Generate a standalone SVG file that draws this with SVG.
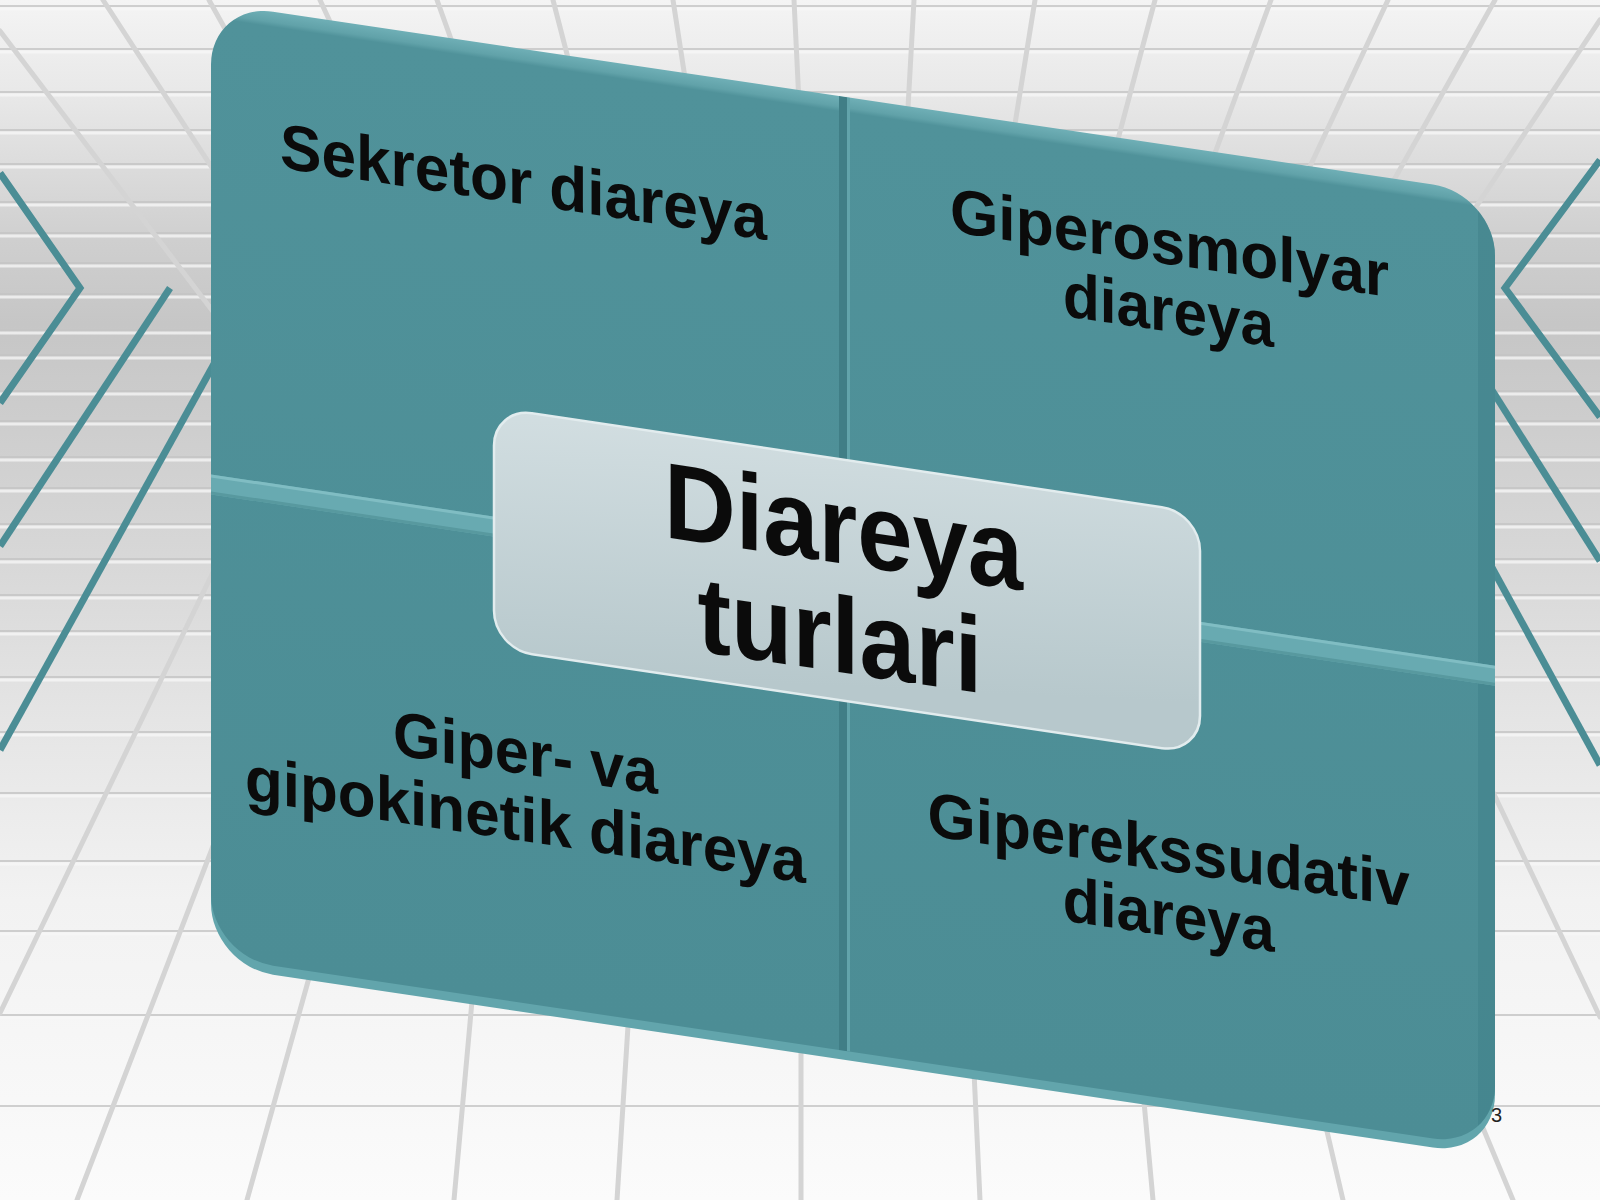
<svg xmlns="http://www.w3.org/2000/svg" width="1600" height="1200" viewBox="0 0 1600 1200">
<defs>
<linearGradient id="bg" x1="0" y1="0" x2="0" y2="1">
<stop offset="0" stop-color="#f4f4f4"/>
<stop offset="0.08" stop-color="#e8e8e8"/>
<stop offset="0.2" stop-color="#cfcfcf"/>
<stop offset="0.27" stop-color="#c6c6c6"/>
<stop offset="0.45" stop-color="#d6d6d6"/>
<stop offset="0.6" stop-color="#e5e5e5"/>
<stop offset="0.75" stop-color="#f2f2f2"/>
<stop offset="1" stop-color="#fbfbfb"/>
</linearGradient>
<linearGradient id="face" x1="0" y1="0" x2="0" y2="1">
<stop offset="0" stop-color="#6fafb6"/>
<stop offset="0.011" stop-color="#61a2a9"/>
<stop offset="0.016" stop-color="#50929a"/>
<stop offset="1" stop-color="#4c8d95"/>
</linearGradient>
<linearGradient id="boxg" x1="0" y1="0" x2="0.3" y2="1">
<stop offset="0" stop-color="#d2dee1"/>
<stop offset="1" stop-color="#b7c8cc"/>
</linearGradient>
<clipPath id="panelClip"><rect x="211" y="-29" width="1284" height="954" rx="62"/></clipPath>
</defs>
<style>
.lbl{font-family:"Liberation Sans",Arial,sans-serif;font-weight:bold;fill:#0b0b0b;text-anchor:middle}
.side{font-size:63px}
.big{font-size:108px}
.grid{stroke:#d4d4d4;stroke-width:5;fill:none;stroke-linecap:round}
.hw{stroke:#f7f7f7;stroke-width:3;fill:none;opacity:0.75}
.hg{stroke:#c4c4c4;stroke-width:2;fill:none;opacity:0.8}
.teal{stroke:#4b8d95;stroke-width:7;fill:none}
</style>
<g id="background">
<rect x="0" y="0" width="1600" height="1200" fill="url(#bg)"/>
<path class="hg" d="M0 6H1600M0 49H1600M0 92H1600M0 130H1600M0 164H1600M0 202H1600M0 233H1600M0 263H1600M0 294H1600M0 330H1600M0 355H1600M0 391H1600M0 421H1600M0 457H1600M0 488H1600M0 524H1600M0 559H1600M0 595H1600M0 631H1600M0 677H1600M0 732H1600M0 793H1600M0 861H1600M0 931H1600M0 1015H1600M0 1106H1600"/>
<path class="hw" d="M0 9H1600M0 52H1600M0 95H1600M0 133H1600M0 167H1600M0 205H1600M0 236H1600M0 266H1600M0 297H1600M0 333H1600M0 358H1600M0 394H1600M0 424H1600M0 460H1600M0 491H1600M0 527H1600M0 562H1600M0 598H1600M0 634H1600M0 680H1600M0 735H1600M0 796H1600M0 864H1600M0 934H1600M0 1018H1600M0 1109H1600"/>
<path class="grid" d="M0 31L508 700M103 0L558 700M209 0L599 700M320 0L643 700M437 0L688 700M553 0L734 700M673 0L781 700M794 0L828 700M914 0L875 700M1035 0L922 700M1155 0L969 700M1271 0L1015 700M1388 0L1060 700M1495 0L1102 700M1600 20L1149 700"/>
<path class="grid" d="M0 1013L215 568M77 1200L225 815M247 1200L314 960M454 1200L473 990M617 1200L629 1010M801 1200L801 1030M980 1200L973 1050M1153 1200L1142 1080M1343 1200L1322 1110M1513 1200L1483 1128M1600 1017L1492 790"/>
<polyline class="teal" points="0,173 80,288 0,403"/>
<line class="teal" x1="170" y1="288" x2="0" y2="546"/>
<line class="teal" x1="214" y1="364" x2="0" y2="750"/>
<polyline class="teal" points="1600,160 1505,288 1600,417"/>
<line class="teal" x1="1490" y1="387" x2="1600" y2="561"/>
<line class="teal" x1="1490" y1="564" x2="1600" y2="765"/>
</g>
<g id="connectors"/>
<g id="panel" transform="matrix(1 0.149 0 1 0 0)">
<rect x="211" y="-20" width="1284" height="954" rx="62" fill="#62a5ac"/>
<rect x="211" y="-29" width="1284" height="954" rx="62" fill="url(#face)"/>
<g clip-path="url(#panelClip)">
<rect x="1478" y="-29" width="17" height="954" fill="#3f7f87" opacity="0.45"/>
<rect x="839" y="-29" width="8" height="954" fill="#407e86"/>
<rect x="847" y="-29" width="3" height="954" fill="#62a4ab"/>
<rect x="211" y="443" width="1284" height="20" fill="#68aab1"/>
<rect x="211" y="443" width="1284" height="3" fill="#80bdc3"/>
<rect x="211" y="460" width="1284" height="3" fill="#58999f"/>
</g>
<g id="node-sekretor">
<text class="lbl side" x="523.5" y="126" textLength="487" lengthAdjust="spacingAndGlyphs" style="font-size:64px">Sekretor diareya</text>
</g>
<g id="node-giperosmolyar">
<text class="lbl side" x="1169.5" y="90" textLength="439" lengthAdjust="spacingAndGlyphs">Giperosmolyar</text>
<text class="lbl side" x="1168.5" y="157.5" textLength="211" lengthAdjust="spacingAndGlyphs">diareya</text>
</g>
<g id="node-gipokinetik">
<text class="lbl side" x="525.5" y="696" textLength="265" lengthAdjust="spacingAndGlyphs">Giper- va</text>
<text class="lbl side" x="525.5" y="763" textLength="561" lengthAdjust="spacingAndGlyphs">gipokinetik diareya</text>
</g>
<g id="node-giperekssudativ">
<text class="lbl side" x="1168.6" y="697" textLength="482" lengthAdjust="spacingAndGlyphs">Giperekssudativ</text>
<text class="lbl side" x="1168.7" y="762" textLength="212" lengthAdjust="spacingAndGlyphs">diareya</text>
</g>
<g id="node-center">
<rect x="494" y="334" width="706" height="241" rx="38" fill="url(#boxg)" stroke="#e2ecee" stroke-width="2.5"/>
<text class="lbl big" x="843.5" y="438" textLength="359" lengthAdjust="spacingAndGlyphs">Diareya</text>
<text class="lbl big" x="840" y="547" textLength="285" lengthAdjust="spacingAndGlyphs">turlari</text>
</g>
</g>
<text x="1491" y="1122" style="font-family:'Liberation Sans',Arial,sans-serif;font-size:20px;fill:#222">3</text>
</svg>
